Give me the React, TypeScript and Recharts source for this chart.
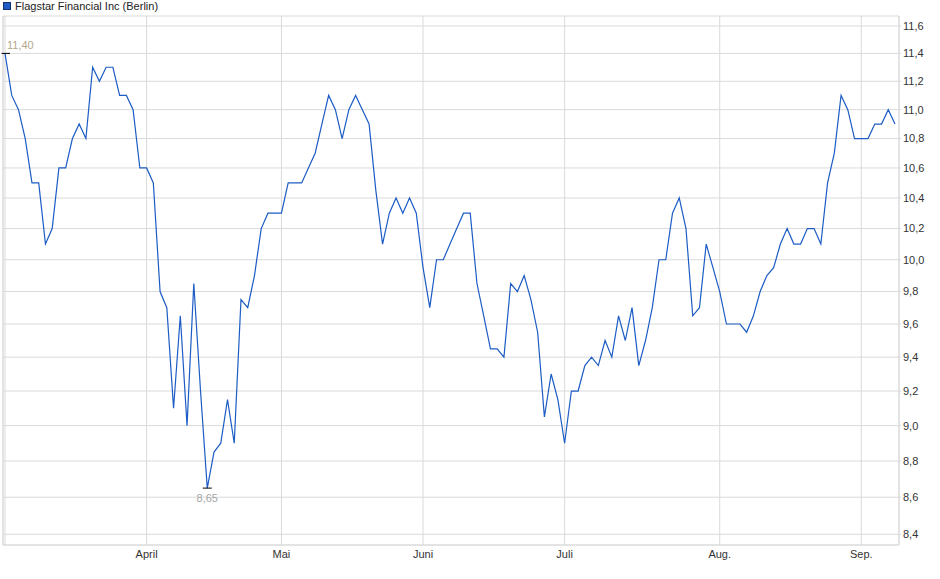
import { CartesianGrid, Line, LineChart, XAxis, YAxis } from "recharts";

// month labels on the x axis (first one sits on the left edge and stays blank)
const monthNames = ["März", "April", "Mai", "Juni", "Juli", "Aug.", "Sep."];

// daily closes, one array per month (trading days)
const marchPrices = [
    11.4, 11.1, 11.0, 10.8, 10.5, 10.5, 10.1, 10.2, 10.6, 10.6, 10.8, 10.9, 10.8,
    11.3, 11.2, 11.3, 11.3, 11.1, 11.1, 11.0, 10.6,
];
const aprilPrices = [
    10.6, 10.5, 9.8, 9.7, 9.1, 9.65, 9.0, 9.85, 9.2, 8.65, 8.85, 8.9, 9.15, 8.9,
    9.75, 9.7, 9.9, 10.2, 10.3, 10.3,
];
const mayPrices = [
    10.3, 10.5, 10.5, 10.5, 10.6, 10.7, 10.9, 11.1, 11.0, 10.8, 11.0, 11.1, 11.0,
    10.9, 10.45, 10.1, 10.3, 10.4, 10.3, 10.4, 10.3,
];
const junePrices = [
    9.95, 9.7, 10.0, 10.0, 10.1, 10.2, 10.3, 10.3, 9.85, 9.65, 9.45, 9.45, 9.4,
    9.85, 9.8, 9.9, 9.75, 9.55, 9.05, 9.3, 9.15,
];
const julyPrices = [
    8.9, 9.2, 9.2, 9.35, 9.4, 9.35, 9.5, 9.4, 9.65, 9.5, 9.7, 9.35, 9.5, 9.7,
    10.0, 10.0, 10.3, 10.4, 10.2, 9.65, 9.7, 10.1, 9.95,
];
const augustPrices = [
    9.8, 9.6, 9.6, 9.6, 9.55, 9.65, 9.8, 9.9, 9.95, 10.1, 10.2, 10.1, 10.1, 10.2,
    10.2, 10.1, 10.5, 10.7, 11.1, 11.0, 10.8,
];
const septemberPrices = [10.8, 10.8, 10.9, 10.9, 11.0, 10.9];

const yTicks = [
    8.4, 8.6, 8.8, 9.0, 9.2, 9.4, 9.6, 9.8, 10.0, 10.2, 10.4, 10.6, 10.8, 11.0,
    11.2, 11.4, 11.6,
];

const monthPrices = [
    marchPrices,
    aprilPrices,
    mayPrices,
    junePrices,
    julyPrices,
    augustPrices,
    septemberPrices,
];

const data = monthPrices.flat().map((price, i) => ({ i, price }));

const monthStarts = monthPrices.map((_, m) =>
    monthPrices.slice(0, m).reduce((sum, p) => sum + p.length, 0)
);

const prices = data.map((d) => d.price);
const maxIndex = prices.indexOf(Math.max(...prices));
const minIndex = prices.indexOf(Math.min(...prices));

const LINE_COLOR = "#1c5cc4";
const GRID_COLOR = "#dadada";
const FONT = "'Liberation Sans', Arial, sans-serif";

const fmt = (v: number, digits: number) => v.toFixed(digits).replace(".", ",");

const renderExtreme = (props: any) => {
    const { x, y, index } = props;
    if (index === maxIndex) {
        return (
            <g key="max">
                <line x1={x - 3.5} x2={x + 5} y1={y} y2={y} stroke="#000" strokeWidth={1} />
                <text x={x + 2} y={y - 4} fill="#b5a78e" fontSize={11} fontFamily={FONT}>
                    {fmt(prices[index], 2)}
                </text>
            </g>
        );
    }
    if (index === minIndex) {
        return (
            <g key="min">
                <line x1={x - 4.5} x2={x + 4.5} y1={y} y2={y} stroke="#000" strokeWidth={1} />
                <text
                    x={x}
                    y={y + 14}
                    fill="#a6a6a6"
                    fontSize={11}
                    fontFamily={FONT}
                    textAnchor="middle"
                >
                    {fmt(prices[index], 2)}
                </text>
            </g>
        );
    }
    return null;
};

const App = () => {
    return (
        <div
            style={{
                position: "absolute",
                left: 0,
                top: 0,
                width: 940,
                height: 579,
                background: "#fff",
                fontFamily: FONT,
            }}
        >
            <div
                style={{
                    position: "absolute",
                    left: 3,
                    top: 0,
                    display: "flex",
                    alignItems: "center",
                    height: 12,
                    fontSize: 11,
                    color: "#222",
                }}
            >
                <span
                    style={{
                        display: "inline-block",
                        width: 6,
                        height: 6,
                        background: LINE_COLOR,
                        border: "1px solid #14306e",
                        marginRight: 4,
                    }}
                />
                <span>Flagstar Financial Inc (Berlin)</span>
            </div>

            <LineChart
                width={940}
                height={579}
                data={data}
                margin={{ top: 16, right: 0, bottom: 0, left: 0 }}
            >
                <CartesianGrid stroke={GRID_COLOR} strokeWidth={1} />

                <XAxis
                    dataKey="i"
                    type="number"
                    domain={[0, data.length - 1]}
                    ticks={monthStarts}
                    interval={0}
                    padding={{ left: 2, right: 4 }}
                    height={34}
                    tickSize={0}
                    tickMargin={5}
                    axisLine={{ stroke: GRID_COLOR }}
                    tick={{ fill: "#333", fontSize: 11, fontFamily: FONT }}
                    tickFormatter={(v: number) => {
                        const m = monthStarts.indexOf(v);
                        return m <= 0 ? "" : monthNames[m];
                    }}
                />

                <XAxis
                    xAxisId="top"
                    dataKey="i"
                    type="number"
                    orientation="top"
                    domain={[0, data.length - 1]}
                    height={0}
                    tick={false}
                    tickLine={false}
                    axisLine={{ stroke: GRID_COLOR }}
                />

                <YAxis
                    orientation="right"
                    scale="log"
                    domain={[8.343, 11.674]}
                    allowDataOverflow
                    ticks={yTicks}
                    interval={0}
                    width={41}
                    tickSize={2}
                    tickMargin={2}
                    tickLine={{ stroke: GRID_COLOR }}
                    axisLine={{ stroke: GRID_COLOR }}
                    tick={{ fill: "#333", fontSize: 11, fontFamily: FONT }}
                    tickFormatter={(v: number) => fmt(v, 1)}
                />

                <YAxis
                    yAxisId="left"
                    orientation="left"
                    domain={[0, 1]}
                    width={3}
                    tick={false}
                    tickLine={false}
                    axisLine={{ stroke: GRID_COLOR }}
                />

                <Line
                    type="linear"
                    dataKey="price"
                    stroke={LINE_COLOR}
                    strokeWidth={1.2}
                    dot={false}
                    activeDot={false}
                    label={renderExtreme}
                    isAnimationActive={false}
                />
            </LineChart>
        </div>
    );
};

export default App;
